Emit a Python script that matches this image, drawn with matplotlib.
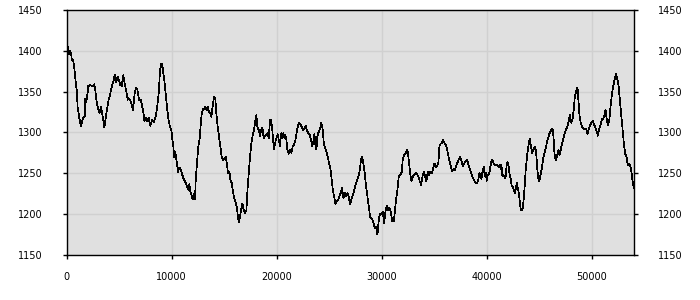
import matplotlib
matplotlib.use("Agg")
import matplotlib.pyplot as plt

# elevation profile (distance in m, elevation in m)
dist = [
    0, 111, 206, 333, 429, 524, 619, 714, 841, 968, 1063, 1222, 1381, 1476, 1603,
    1730, 1794, 1889, 1984, 2079, 2238, 2524, 2651, 2746, 2841, 3000, 3159, 3286,
    3381, 3508, 3603, 3730, 3889, 4016, 4175, 4333, 4492, 4587, 4714, 4873, 5000,
    5127, 5254, 5413, 5540, 5698, 5825, 5921, 6079, 6238, 6333, 6492, 6619, 6746,
    6905, 7064, 7190, 7317, 7413, 7571, 7698, 7825, 7984, 8143, 8302, 8460, 8619,
    8778, 8905,
    9032, 9127, 9222, 9349, 9476, 9603, 9730, 9857, 9984, 10079, 10175, 10238,
    10365, 10492, 10619, 10746, 10873, 11000, 11159, 11317, 11476, 11603, 11698,
    11794, 11921, 12016, 12143, 12238, 12302, 12429, 12556, 12683, 12778, 12873,
    13000, 13127, 13222, 13349, 13476, 13571, 13698, 13794, 13921, 14048, 14175,
    14270, 14397, 14524, 14651, 14778, 14905, 15032, 15159, 15286, 15381, 15508,
    15603, 15730, 15825, 15952, 16079, 16206, 16302, 16397, 16492, 16619, 16746,
    16873, 17000, 17127, 17222, 17349, 17476, 17603, 17730, 17857,
    17952, 18079, 18175, 18302, 18429, 18556, 18651, 18778, 18905, 19032, 19159,
    19254, 19381, 19476, 19571, 19667, 19762, 19857, 19984, 20111, 20206, 20333,
    20429, 20524, 20651, 20746, 20841, 20937, 21032, 21159, 21286, 21413, 21540,
    21667, 21794, 21921, 22048, 22175, 22302, 22429, 22556, 22683, 22778, 22905,
    23032, 23159, 23286, 23381, 23508, 23603, 23698, 23794, 23889, 24016, 24143,
    24270, 24397, 24492, 24619, 24746, 24873, 25000, 25127, 25254, 25349, 25476,
    25603, 25730, 25857, 25984, 26111, 26238, 26365, 26492, 26619, 26746, 26873,
    27000,
    27159, 27317, 27476, 27635, 27794, 27921, 28048, 28143, 28270, 28397, 28524,
    28651, 28778, 28905, 29000, 29095, 29222, 29349, 29476, 29603, 29730, 29857,
    29984, 30111, 30238, 30365, 30492, 30619, 30746, 30873, 31000, 31159, 31254,
    31381, 31508, 31635, 31794, 31921, 32016, 32143, 32302, 32429, 32524, 32619,
    32714, 32841, 32968, 33095, 33254, 33381, 33508, 33635, 33762, 33889, 34016,
    34143, 34270, 34397, 34524, 34651, 34778, 34905, 35032, 35159, 35286, 35413,
    35508, 35603, 35730, 35857, 35984, 36111,
    36238, 36365, 36492, 36619, 36714, 36841, 36968, 37095, 37222, 37349, 37476,
    37603, 37730, 37857, 37984, 38143, 38270, 38397, 38524, 38651, 38778, 38937,
    39063, 39190, 39317, 39413, 39508, 39603, 39730, 39825, 39921, 40016, 40111,
    40238, 40333, 40429, 40556, 40683, 40841, 41000, 41127, 41254, 41349, 41413,
    41508, 41603, 41698, 41794, 41889, 41984, 42079, 42175, 42302, 42397, 42492,
    42587, 42683, 42778, 42873, 42968, 43063, 43159, 43254, 43413, 43540, 43635,
    43730, 43825, 43921, 44016, 44111, 44206, 44333, 44460, 44587, 44714, 44810,
    44905, 45000, 45127,
    45254, 45381, 45508, 45635, 45762, 45889, 46016, 46143, 46270, 46365, 46460,
    46587, 46714, 46841, 46937, 47063, 47190, 47317, 47444, 47571, 47698, 47825,
    47921, 48048, 48175, 48302, 48397, 48524, 48651, 48746, 48841, 48968, 49095,
    49222, 49349, 49476, 49603, 49730, 49857, 49984, 50111, 50238, 50365, 50492,
    50587, 50714, 50841, 50968, 51095, 51222, 51317, 51413, 51540, 51667, 51794,
    51921, 52048, 52175, 52302, 52429, 52556, 52683, 52810, 52937, 53063, 53190,
    53317, 53444, 53571, 53698, 53825, 53921, 54048,
]
elev = [
    1413, 1405, 1396, 1400, 1397, 1388, 1389, 1382, 1366, 1352, 1331, 1317, 1308,
    1313, 1318, 1320, 1341, 1337, 1346, 1357, 1358, 1357, 1359, 1352, 1340, 1329,
    1324, 1331, 1325, 1315, 1306, 1317, 1331, 1340, 1348, 1357, 1364, 1371, 1362,
    1368, 1364, 1358, 1357, 1370, 1360, 1350, 1340, 1342, 1339, 1333, 1327, 1348,
    1355, 1353, 1340, 1340, 1333, 1325, 1314, 1318, 1314, 1318, 1308, 1315, 1313,
    1318, 1329, 1348, 1376,
    1384, 1383, 1372, 1360, 1344, 1327, 1314, 1307, 1303, 1291, 1283, 1270, 1276,
    1264, 1252, 1257, 1255, 1249, 1243, 1239, 1234, 1230, 1237, 1228, 1222, 1218,
    1225, 1218, 1242, 1264, 1283, 1293, 1309, 1323, 1329, 1328, 1332, 1327, 1331,
    1325, 1323, 1319, 1333, 1344, 1340, 1323, 1307, 1295, 1283, 1270, 1266, 1268,
    1270, 1260, 1250, 1252, 1242, 1238, 1230, 1220, 1216, 1209, 1199, 1190, 1195,
    1205, 1213, 1205, 1201, 1205, 1228, 1250, 1270, 1287, 1297, 1303,
    1313, 1321, 1307, 1303, 1296, 1304, 1306, 1293, 1296, 1297, 1300, 1293, 1316,
    1315, 1307, 1291, 1279, 1287, 1293, 1298, 1291, 1283, 1299, 1293, 1299, 1293,
    1297, 1291, 1279, 1274, 1279, 1275, 1283, 1285, 1291, 1301, 1309, 1312, 1309,
    1306, 1303, 1305, 1308, 1302, 1299, 1297, 1291, 1283, 1289, 1298, 1285, 1279,
    1296, 1301, 1305, 1312, 1303, 1287, 1281, 1276, 1270, 1262, 1256, 1242, 1230,
    1222, 1212, 1216, 1217, 1222, 1226, 1232, 1220, 1226, 1222, 1226, 1221, 1212,
    1220, 1226, 1234, 1240, 1246, 1254, 1268, 1270, 1262, 1250, 1234, 1222, 1210,
    1197, 1195, 1194, 1189, 1183, 1185, 1175, 1193, 1201, 1200, 1203, 1189, 1203,
    1210, 1205, 1208, 1203, 1192, 1191, 1203, 1218, 1230, 1246, 1248, 1252, 1268,
    1272, 1275, 1279, 1274, 1262, 1250, 1240, 1246, 1248, 1251, 1249, 1246, 1240,
    1236, 1246, 1252, 1246, 1240, 1252, 1248, 1252, 1250, 1256, 1262, 1258, 1259,
    1264, 1283, 1286, 1287, 1291, 1287, 1285,
    1279, 1271, 1264, 1257, 1253, 1255, 1254, 1259, 1263, 1267, 1270, 1266, 1259,
    1262, 1264, 1267, 1260, 1255, 1250, 1246, 1242, 1239, 1238, 1241, 1250, 1246,
    1243, 1252, 1258, 1246, 1251, 1241, 1248, 1249, 1256, 1264, 1267, 1261, 1260,
    1260, 1258, 1261, 1255, 1260, 1246, 1248, 1246, 1244, 1258, 1264, 1260, 1250,
    1243, 1234, 1234, 1229, 1226, 1231, 1238, 1232, 1226, 1216, 1205, 1205, 1220,
    1236, 1256, 1268, 1279, 1287, 1292, 1285, 1275, 1279, 1283, 1276, 1258, 1244,
    1240, 1248,
    1256, 1268, 1275, 1281, 1289, 1295, 1300, 1303, 1305, 1295, 1274, 1266, 1272,
    1279, 1272, 1279, 1287, 1293, 1299, 1304, 1307, 1315, 1322, 1312, 1316, 1329,
    1344, 1351, 1355, 1337, 1321, 1311, 1307, 1305, 1304, 1305, 1298, 1304, 1309,
    1312, 1314, 1309, 1306, 1301, 1296, 1304, 1309, 1316, 1317, 1321, 1328, 1318,
    1309, 1314, 1331, 1346, 1356, 1364, 1372, 1366, 1358, 1340, 1323, 1305, 1287,
    1274, 1270, 1260, 1262, 1258, 1248, 1238, 1232,
]

xticks = [0, 10000, 20000, 30000, 40000, 50000]
yticks = [1150, 1200, 1250, 1300, 1350, 1400, 1450]

plt.rcParams['font.family'] = ['DejaVu Sans']

fig = plt.figure(figsize=(7, 3), dpi=100)
ax = fig.add_axes([0.095, 0.15, 0.811, 0.8167])
ax.set_facecolor('#e0e0e0')

ax.plot(dist, elev, color='black', lw=0.5, antialiased=False)

ax.set_xlim(0, 54050)
ax.set_ylim(1150, 1450)
ax.set_xticks(xticks)
ax.set_yticks(yticks)
ax.set_xticklabels([str(t) for t in xticks])
ax.set_yticklabels([str(t) for t in yticks])

ax.grid(True, color='#d0d0d0', lw=1.0)
ax.set_axisbelow(True)
for s in ax.spines.values():
    s.set_color('black')
    s.set_linewidth(1.0)

ax.tick_params(axis='y', which='both', left=True, right=True,
               labelleft=True, labelright=True, length=3, width=1,
               direction='out', labelsize=7, pad=14)
ax.tick_params(axis='x', length=3, width=1, direction='out',
               labelsize=7, pad=9)

fig.savefig('out.png', dpi=100)
